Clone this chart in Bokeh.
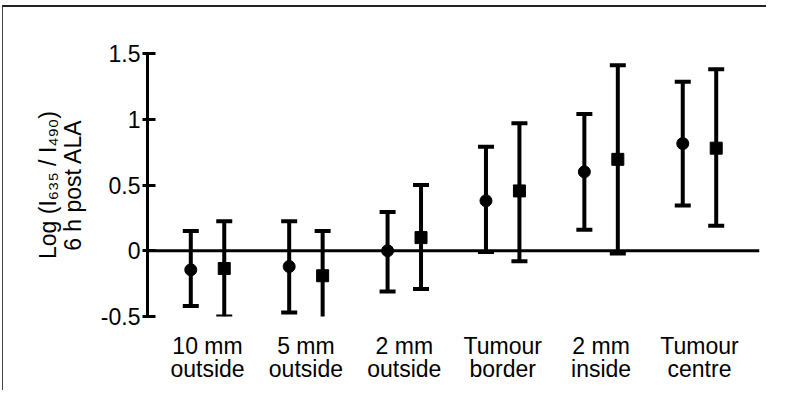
from bokeh.plotting import figure
from bokeh.models import ColumnDataSource, Whisker, Span, FactorRange, FixedTicker, TeeHead
from bokeh.transform import dodge
from bokeh.embed import file_html
from bokeh.resources import INLINE

categories = ["10 mm\noutside", "5 mm\noutside", "2 mm\noutside",
              "Tumour\nborder", "2 mm\ninside", "Tumour\ncentre"]
circle_mean = [-0.145, -0.12, 0.0, 0.38, 0.60, 0.815]
circle_upper = [0.15, 0.225, 0.295, 0.79, 1.04, 1.285]
circle_lower = [-0.42, -0.47, -0.31, -0.01, 0.16, 0.345]
square_mean = [-0.135, -0.19, 0.10, 0.455, 0.695, 0.78]
square_upper = [0.225, 0.15, 0.50, 0.97, 1.41, 1.38]
square_lower = [-0.50, -0.52, -0.29, -0.08, -0.02, 0.19]
y_ticks = [-0.5, 0, 0.5, 1, 1.5]
y_tick_labels = {-0.5: "-0.5", 0: "0", 0.5: "0.5", 1: "1", 1.5: "1.5"}

src = ColumnDataSource(dict(cat=categories,
                            cm=circle_mean, cu=circle_upper, cl=circle_lower,
                            sm=square_mean, su=square_upper, sl=square_lower))

FONT = "Liberation Sans"
FS = "23px"

p = figure(width=764, height=385, output_backend="svg", toolbar_location=None,
           x_range=FactorRange(*categories, range_padding=0.11, range_padding_units="absolute"),
           y_range=(-0.5, 1.5),
           min_border_left=144, min_border_right=8, min_border_top=46, min_border_bottom=76)
p.styles = {"position": "relative", "top": "5px", "left": "2px",
            "border-top": "2px solid #222", "border-left": "1px solid #444"}
p.outline_line_color = None
p.grid.visible = False
p.background_fill_color = "white"
p.border_fill_color = "white"

# zero line
p.add_layout(Span(location=0, dimension="width", line_color="black", line_width=3))

off = 0.17
for m, u, l, marker, sign in [("cm", "cu", "cl", "circle", -1), ("sm", "su", "sl", "square", 1)]:
    xb = dodge("cat", sign * off, range=p.x_range)
    w = Whisker(base=xb, upper=u, lower=l, source=src, line_width=4, line_color="black",
                upper_head=TeeHead(size=16, line_width=4, line_color="black"),
                lower_head=TeeHead(size=16, line_width=4, line_color="black"))
    p.add_layout(w)
    p.scatter(x=xb, y=m, source=src, marker=marker, size=12,
              fill_color="black", line_color="black")

# y axis
p.yaxis.ticker = FixedTicker(ticks=y_ticks)
p.yaxis.major_label_overrides = y_tick_labels
p.yaxis.axis_line_width = 3
p.yaxis.major_tick_line_width = 3
p.yaxis.major_tick_in = 8
p.yaxis.major_tick_out = 5
p.yaxis.minor_tick_line_color = None
p.yaxis.major_label_text_font = FONT
p.yaxis.major_label_text_font_size = FS
p.yaxis.major_label_text_color = "black"
p.yaxis.major_label_standoff = 2
p.yaxis.axis_label = "Log (I\u2086\u2083\u2085 / I\u2084\u2089\u2080)\n6 h post ALA"
p.yaxis.axis_label_text_font = FONT
p.yaxis.axis_label_text_font_size = FS
p.yaxis.axis_label_text_font_style = "normal"
p.yaxis.axis_label_text_color = "black"
p.yaxis.axis_label_text_line_height = 0.95
p.yaxis.axis_label_standoff = 12

# x axis
p.xaxis.axis_line_color = None
p.xaxis.major_tick_line_color = None
p.xaxis.minor_tick_line_color = None
p.xaxis.major_label_text_font = FONT
p.xaxis.major_label_text_font_size = FS
p.xaxis.major_label_text_color = "black"
p.xaxis.major_label_text_line_height = 0.9
p.xaxis.major_label_standoff = 10
p.xaxis.major_label_orientation = "horizontal"

open("out.html", "w").write(file_html(p, INLINE))
